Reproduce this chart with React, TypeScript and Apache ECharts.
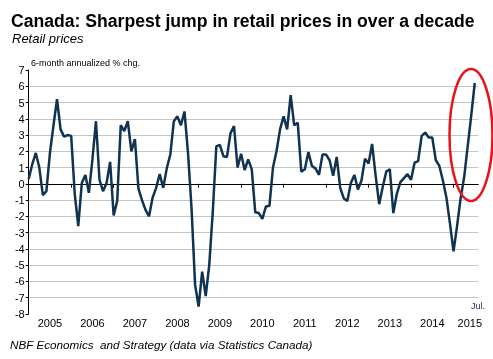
import React, { useEffect, useRef } from "react";
import * as echarts from "echarts";

const years = ["2005", "2006", "2007", "2008", "2009", "2010", "2011", "2012", "2013", "2014", "2015"];
const monthNames = ["Jan", "Feb", "Mar", "Apr", "May", "Jun", "Jul", "Aug", "Sep", "Oct", "Nov", "Dec"];

// 6-month annualized % change, monthly from Jan 2005 to Jul 2015
const retail2005 = [0.3, 1.2, 1.9, 1.0, -0.7, -0.45, 1.9, 3.6, 5.2, 3.35, 2.9, 3.0];
const retail2006 = [2.95, -0.6, -2.6, 0.05, 0.55, -0.55, 1.5, 3.85, 0.25, -0.45, 0.05, 1.35];
const retail2007 = [-1.95, -1.05, 3.6, 3.25, 3.85, 2.0, 2.75, -0.3, -1.0, -1.6, -2.0, -0.85];
const retail2008 = [-0.25, 0.6, -0.25, 0.95, 1.8, 3.85, 4.15, 3.6, 4.45, 1.9, -1.5, -6.2];
const retail2009 = [-7.55, -5.4, -6.9, -5.0, -1.7, 2.3, 2.4, 1.7, 1.65, 3.1, 3.55, 1.0];
const retail2010 = [1.85, 0.85, 1.5, 0.9, -1.75, -1.8, -2.15, -1.4, -1.35, 1.0, 2.0, 3.35];
const retail2011 = [4.15, 3.35, 5.45, 3.6, 3.75, 0.75, 0.9, 1.95, 1.1, 0.95, 0.55, 1.8];
const retail2012 = [1.8, 1.45, 0.5, 1.65, -0.25, -0.9, -1.05, 0.05, 0.55, -0.35, 0.2, 1.55];
const retail2013 = [1.25, 2.45, 0.5, -1.25, -0.2, 0.75, 0.9, -1.8, -0.6, 0.1, 0.35, 0.6];
const retail2014 = [0.25, 1.3, 1.4, 2.95, 3.15, 2.85, 2.85, 1.45, 1.1, 0.2, -0.85, -2.45];
const retail2015 = [-4.15, -2.6, -0.9, 0.4, 2.3, 4.2, 6.2];

const values = [
  ...retail2005, ...retail2006, ...retail2007, ...retail2008, ...retail2009, ...retail2010,
  ...retail2011, ...retail2012, ...retail2013, ...retail2014, ...retail2015,
];

const yTicks = [-8, -7, -6, -5, -4, -3, -2, -1, 0, 1, 2, 3, 4, 5, 6, 7];

// categories: every month of each year, plus one trailing month so the axis runs slightly past Jul 2015
const categories: string[] = [];
years.forEach((y) => monthNames.forEach((m) => categories.push(m + " " + y)));
const shownCategories = categories.slice(0, values.length + 1);

const FONT = "'Liberation Sans', Arial, sans-serif";

export default function App() {
  const ref = useRef<HTMLDivElement>(null);
  useEffect(() => {
    if (!ref.current) return;
    const chart = echarts.init(ref.current, null, { renderer: "svg" });
    const gridColors = yTicks.map((t, i) => (i === 0 || i === yTicks.length - 1 ? "rgba(0,0,0,0)" : "#c6c6c6"));
    chart.setOption({
      animation: false,
      textStyle: { fontFamily: FONT },
      grid: { left: 28.7, right: 14.7, top: 70, bottom: 45.1, containLabel: false },
      xAxis: {
        type: "category",
        data: shownCategories,
        boundaryGap: false,
        axisLine: { lineStyle: { color: "#000", width: 1 } },
        axisTick: { show: true, interval: (i: number) => i % 12 === 0, length: 4, lineStyle: { color: "#000" } },
        axisLabel: {
          interval: (i: number) => i % 12 === 6,
          formatter: (v: string) => {
            const y = v.split(" ")[1];
            return y === "2015" ? "{last|" + y + "}" : y;
          },
          rich: { last: { padding: [0, 10, 0, 0], fontSize: 11, color: "#000", fontFamily: FONT } },
          color: "#000",
          fontSize: 11,
          fontFamily: FONT,
          margin: 4,
        },
        splitLine: { show: false },
      },
      yAxis: {
        type: "value",
        min: -8,
        max: 7,
        interval: 1,
        axisLine: { show: true, lineStyle: { color: "#000", width: 1 } },
        axisTick: { show: true, length: 3, lineStyle: { color: "#000" } },
        axisLabel: { color: "#000", fontSize: 11, fontFamily: FONT, margin: 4 },
        splitLine: { show: true, lineStyle: { color: gridColors, width: 1 } },
      },
      series: [
        {
          type: "line",
          data: values,
          symbol: "none",
          lineStyle: { color: "#0f3350", width: 2.5 },
        },
      ],
      graphic: [
        {
          type: "text",
          left: 11,
          top: 12,
          style: { text: "Canada: Sharpest jump in retail prices in over a decade", font: "bold 17.6px " + FONT, fill: "#000" },
        },
        {
          type: "text",
          left: 12,
          top: 32,
          style: { text: "Retail prices", font: "italic 13px " + FONT, fill: "#000" },
        },
        {
          type: "text",
          left: 31,
          top: 58,
          style: { text: "6-month annualized % chg.", font: "9px " + FONT, fill: "#000" },
        },
        {
          type: "text",
          left: 471,
          top: 301,
          style: { text: "Jul.", font: "9px " + FONT, fill: "#1c2c4c" },
        },
        {
          type: "text",
          left: 10,
          top: 338,
          style: { text: "NBF Economics  and Strategy (data via Statistics Canada)", font: "italic 11.7px " + FONT, fill: "#000" },
        },
        {
          type: "ellipse",
          shape: { cx: 471, cy: 135, rx: 21.5, ry: 66 },
          style: { fill: "none", stroke: "#e8141c", lineWidth: 2.5 },
          z: 100,
        },
      ],
    });
    return () => chart.dispose();
  }, []);
  return <div ref={ref} style={{ position: "fixed", left: 0, top: 0, width: 493, height: 359 }} />;
}
